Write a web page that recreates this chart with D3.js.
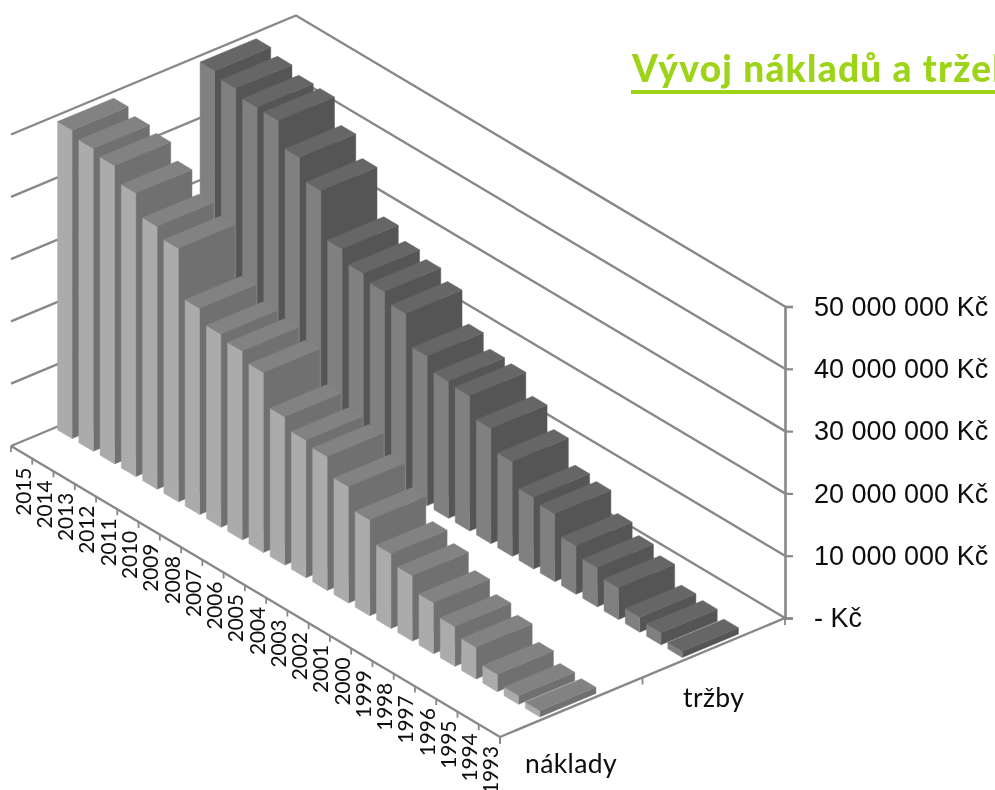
<!DOCTYPE html>
<html lang="cs">
<head>
<meta charset="utf-8">
<script src="https://cdn.jsdelivr.net/npm/d3@7"></script>
<style>
html,body{margin:0;padding:0;background:#fff;overflow:hidden}
svg{display:block}
</style>
</head>
<body>
<svg id="chart" width="995" height="790"></svg>
<script>
const years = ["2015","2014","2013","2012","2011","2010","2009","2008","2007","2006","2005","2004","2003","2002","2001","2000","1999","1998","1997","1996","1995","1994","1993"];
const seriesNames = ["náklady","tržby"];
const naklady = [49.5,48.6,47.9,45.5,42.2,40.7,33.1,31.0,30.3,28.9,23.8,22.1,21.5,18.7,15.4,12.0,10.5,8.2,6.4,5.1,2.8,1.4,1.0].map(d=>d*1e6);
const trzby   = [49.5,48.7,47.7,47.6,43.7,40.4,33.1,31.2,30.3,28.8,24.0,22.0,21.7,18.5,15.2,11.5,10.9,7.8,6.3,5.1,2.4,1.95,1.0].map(d=>d*1e6);
const valueTicks = [0,10e6,20e6,30e6,40e6,50e6];
const valueTickLabels = ["- Kč","10 000 000 Kč","20 000 000 Kč","30 000 000 Kč","40 000 000 Kč","50 000 000 Kč"];
const titleText = "Vývoj nákladů a tržeb";

const seriesValues = [naklady, trzby];
const faceColors = [
  {left:"#ababab", top:"#828282", right:"#707070"},
  {left:"#808080", top:"#666666", right:"#555555"}
];

// oblique projection of the chart box
const A = [11,446], B = [500,737], C = [785,618];
const FLOOR_U = [B[0]-A[0], B[1]-A[1]], FLOOR_V = [C[0]-B[0], C[1]-B[1]];
const yearScale = d3.scaleBand().domain(years).range([0,1]).paddingInner(0.32).paddingOuter(0.16);
const seriesScale = d3.scaleBand().domain(seriesNames).range([0,1]).paddingInner(0.606).paddingOuter(0.303);
const valueScale = d3.scaleLinear().domain([0,50e6]).range([C[1],C[1]-311.5]);
const h = v => C[1]-valueScale(v);
const project = (u,v,val=0) => [A[0]+FLOOR_U[0]*u+FLOOR_V[0]*v, A[1]+FLOOR_U[1]*u+FLOOR_V[1]*v-h(val)];
const path = pts => "M"+pts.map(p=>p[0].toFixed(2)+","+p[1].toFixed(2)).join("L")+"Z";
const line = pts => "M"+pts.map(p=>p[0].toFixed(2)+","+p[1].toFixed(2)).join("L");

const svg = d3.select("#chart");
const defs = svg.append("defs");
defs.append("filter").attr("id","soft").attr("x","-5%").attr("y","-5%").attr("width","110%").attr("height","110%")
  .append("feGaussianBlur").attr("stdDeviation",0.45);

const root = svg.append("g").attr("filter","url(#soft)");
const AXIS = "#888888";

// gridlines: left wall + back wall
root.append("g").selectAll("path").data(valueTicks).join("path")
  .attr("d",v=>line([project(0,0,v),project(0,1,v),project(1,1,v)]))
  .attr("fill","none").attr("stroke",AXIS).attr("stroke-width",2.4);

// bars, back to front
const barsG = root.append("g");
seriesNames.slice().reverse().forEach(name=>{
  const s = seriesNames.indexOf(name);
  const v0 = seriesScale(name), v1 = v0+seriesScale.bandwidth();
  const g = barsG.append("g").attr("class","series");
  const bar = g.selectAll("g").data(years.map((y,i)=>({y,val:seriesValues[s][i]}))).join("g");
  const u0 = d=>yearScale(d.y), u1 = d=>yearScale(d.y)+yearScale.bandwidth();
  const stroke = (sel,c)=>sel.attr("fill",c).attr("stroke",c).attr("stroke-width",0.5);
  bar.append("path").attr("d",d=>path([project(u1(d),v0,d.val),project(u1(d),v1,d.val),project(u1(d),v1,0),project(u1(d),v0,0)]))
     .call(stroke,faceColors[s].right);
  bar.append("path").attr("d",d=>path([project(u0(d),v0,d.val),project(u1(d),v0,d.val),project(u1(d),v0,0),project(u0(d),v0,0)]))
     .call(stroke,faceColors[s].left);
  bar.append("path").attr("d",d=>path([project(u0(d),v0,d.val),project(u1(d),v0,d.val),project(u1(d),v1,d.val),project(u0(d),v1,d.val)]))
     .call(stroke,faceColors[s].top);
});

// floor edges
root.append("path").attr("d",line([project(0,0),project(1,0),project(1,1)]))
  .attr("fill","none").attr("stroke",AXIS).attr("stroke-width",2.4);

// year ticks and labels
const yearBounds = years.map((y,i)=>i/years.length).concat(1);
root.append("g").selectAll("line").data(yearBounds).join("line")
  .attr("x1",u=>project(u,0)[0]).attr("y1",u=>project(u,0)[1])
  .attr("x2",u=>project(u,0)[0]).attr("y2",u=>project(u,0)[1]+6)
  .attr("stroke",AXIS).attr("stroke-width",1.8);
root.append("g").selectAll("text").data(years).join("text")
  .attr("transform",y=>{const c=yearScale(y)+yearScale.bandwidth()/2;const p=project(c,0);return `translate(${p[0]+1.5},${p[1]+15.5}) rotate(-90)`;})
  .attr("text-anchor","end").attr("dy","0.36em")
  .attr("font-family","Lato, 'Open Sans', sans-serif").attr("font-size",21).attr("letter-spacing",-0.2).attr("fill","#0a0a0a")
  .text(y=>y);

// series ticks and labels
root.append("g").selectAll("line").data([0,0.5,1]).join("line")
  .attr("x1",v=>project(1,v)[0]).attr("y1",v=>project(1,v)[1])
  .attr("x2",v=>project(1,v)[0]).attr("y2",v=>project(1,v)[1]+7)
  .attr("stroke",AXIS).attr("stroke-width",1.8);
root.append("g").selectAll("text").data(seriesNames).join("text")
  .attr("x",(d,i)=>[525,683][i]).attr("y",(d,i)=>[773,707][i])
  .attr("font-family","Lato, 'Open Sans', sans-serif").attr("font-size",26.5).attr("fill","#0a0a0a")
  .attr("letter-spacing",0.4)
  .text(d=>d);

// value axis
const axis = d3.axisRight(valueScale).tickValues(valueTicks).tickSize(8).tickPadding(21)
  .tickFormat(v=>valueTickLabels[valueTicks.indexOf(v)]);
const axisG = root.append("g").attr("transform",`translate(${C[0]},0)`).call(axis);
axisG.select(".domain").attr("stroke",AXIS).attr("stroke-width",2.6);
axisG.selectAll(".tick line").attr("stroke",AXIS).attr("stroke-width",2.2);
axisG.selectAll("text").attr("font-family","'Liberation Sans', Arial, sans-serif").attr("font-size",27).attr("fill","#0a0a0a");

// title
svg.append("text").attr("x",632).attr("y",82)
  .attr("font-family","Lato, 'Open Sans', sans-serif").attr("font-weight",900).attr("font-size",37)
  .attr("letter-spacing",1.25).attr("fill","#9ed418").text(titleText);
svg.append("rect").attr("x",631).attr("y",90).attr("width",364).attr("height",4).attr("fill","#9ed418");
</script>
</body>
</html>
